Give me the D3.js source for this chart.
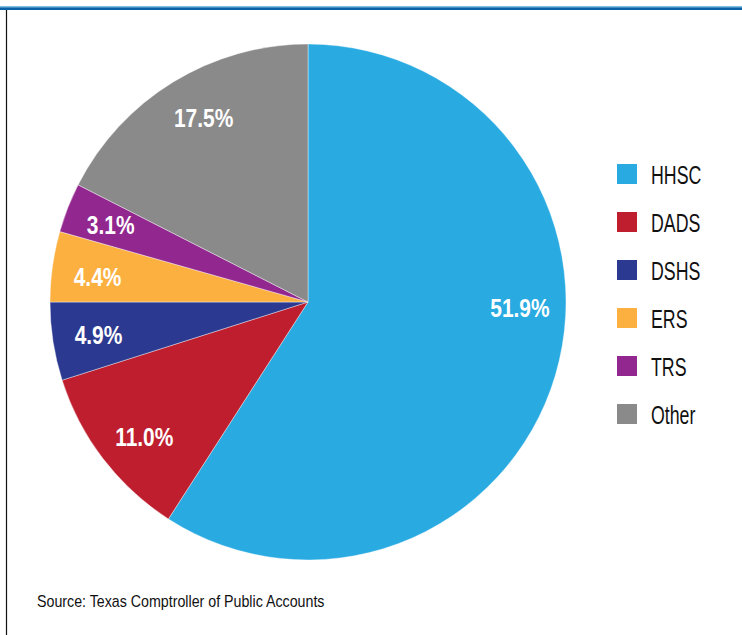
<!DOCTYPE html>
<html>
<head>
<meta charset="utf-8">
<script src="https://cdn.jsdelivr.net/npm/d3@7"></script>
<style>
  body { margin: 0; background: #fff; }
  svg { display: block; }
</style>
</head>
<body>
<svg id="chart"></svg>
<script>
// agencies, share of spending (the drawn slices) and the printed labels
var agencies = ["HHSC", "DADS", "DSHS", "ERS", "TRS", "Other"];
var shares = [59.1, 11.0, 4.9, 4.4, 3.1, 17.5];
var shareLabels = ["51.9%", "11.0%", "4.9%", "4.4%", "3.1%", "17.5%"];
var colors = ["#29abe2", "#be1e2d", "#2b3990", "#fbb040", "#92278f", "#8a8a8a"];
var labelTurn = [-15, -2, 0, -1, 0, 2]; // degrees, label nudged off the slice middle
var sourceNote = "Source: Texas Comptroller of Public Accounts";

var width = 742, height = 635;
var cx = 308, cy = 302, radius = 258, labelRadius = 212;
var font = "'Liberation Sans', Arial, sans-serif";

var svg = d3.select("#chart")
  .attr("width", width)
  .attr("height", height)
  .attr("viewBox", [0, 0, width, height]);

// frame: blue rule on top, thin black rule on the left
svg.append("rect").attr("x", 0).attr("y", 6.3).attr("width", width).attr("height", 1.2).attr("fill", "#4aa0d8");
svg.append("rect").attr("x", 0).attr("y", 7.4).attr("width", width).attr("height", 2.6).attr("fill", "#0b63a5");
svg.append("line")
  .attr("x1", 6.5).attr("x2", 6.5)
  .attr("y1", 10).attr("y2", height)
  .attr("stroke", "#111").attr("stroke-width", 1.2);

var pie = d3.pie().sort(null).value(d => d)(shares);
var arc = d3.arc().innerRadius(0).outerRadius(radius);

var g = svg.append("g").attr("transform", `translate(${cx},${cy})`);

g.selectAll("path")
  .data(pie)
  .join("path")
    .attr("d", arc)
    .attr("fill", (d, i) => colors[i])
    .attr("stroke", "#fff")
    .attr("stroke-width", 0.4);

function labelPos(d, i) {
  var a = (d.startAngle + d.endAngle) / 2 + labelTurn[i] * Math.PI / 180;
  return [labelRadius * Math.sin(a), -labelRadius * Math.cos(a) + 9.5];
}

g.selectAll("text.pct")
  .data(pie)
  .join("text")
    .attr("class", "pct")
    .attr("transform", (d, i) => `translate(${labelPos(d, i)}) scale(0.79,1)`)
    .attr("text-anchor", "middle")
    .style("font-family", font)
    .style("font-weight", "bold")
    .style("font-size", "26.5px")
    .attr("fill", "#fff")
    .text((d, i) => shareLabels[i]);

// legend
var ly = d3.scaleBand()
  .domain(agencies)
  .range([164, 164 + 48 * agencies.length]);

var item = svg.append("g").selectAll("g")
  .data(agencies)
  .join("g")
    .attr("transform", d => `translate(617,${ly(d)})`);

item.append("rect")
  .attr("width", 20)
  .attr("height", 20)
  .attr("fill", (d, i) => colors[i]);

item.append("text")
  .attr("transform", "translate(34,20) scale(0.67,1)")
  .style("font-family", font)
  .style("font-size", "26.5px")
  .attr("fill", "#111")
  .text(d => d);

svg.append("text")
  .attr("transform", "translate(37,607) scale(0.89,1)")
  .style("font-family", font)
  .style("font-size", "16px")
  .attr("fill", "#111")
  .text(sourceNote);
</script>
</body>
</html>
